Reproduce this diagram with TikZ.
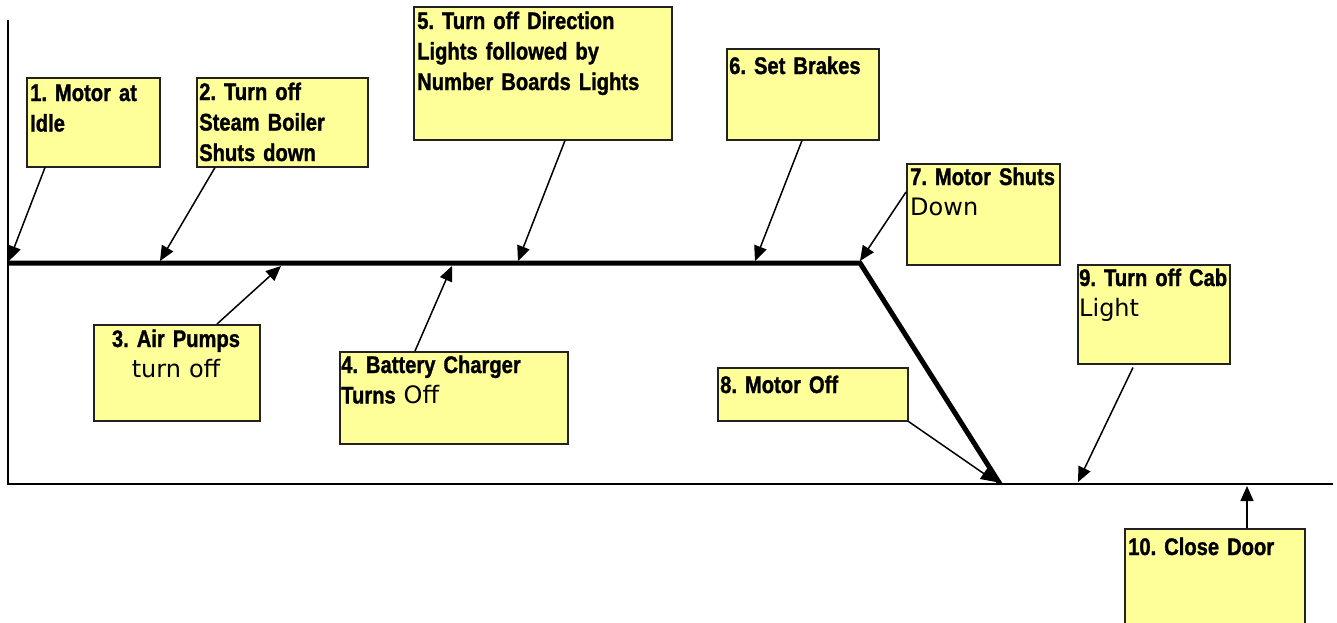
\documentclass[tikz,border=0pt]{standalone}
\usepackage{fontspec}
\usetikzlibrary{arrows.meta,calc}
\newfontfamily\bfcond[FakeStretch=0.84,FakeBold=1.2,WordSpace=0.8]{Liberation Sans}
\newfontfamily\rgsans{DejaVu Sans}
\newcommand{\B}[1]{{\bfcond\bfseries #1}}
\newcommand{\R}[1]{{\rgsans #1}}
\definecolor{boxyellow}{HTML}{FFFF99}
\definecolor{boxedge}{HTML}{222222}
\begin{document}
\begin{tikzpicture}[x=1pt,y=-1pt,
  ybox/.style={draw=boxedge,line width=1.5pt,fill=boxyellow,anchor=north west,inner sep=0pt},
  lbl/.style={anchor=base west,inner sep=0pt,text width=300pt,align=left,
    font=\frenchspacing\fontsize{24}{30.5}\selectfont},
  clbl/.style={anchor=base,inner sep=0pt,text width=170pt,align=center,
    font=\frenchspacing\fontsize{24}{30.5}\selectfont},
  axis/.style={line width=1.8pt},
  spine/.style={line width=5pt,line join=miter},
  arr/.style={line width=1.5pt,-{Triangle[length=15pt,width=13pt]}}]
\useasboundingbox (0,0) rectangle (1337,622);
\clip (0,0) rectangle (1337,622);
% axes
\coordinate (atop) at (8,20);
\coordinate (acorner) at (8,484);
\coordinate (aend) at (1333,484);
\draw[axis] (atop) -- (acorner) -- (aend);
% spine
\coordinate (sp0) at (7,263);
\coordinate (spk) at (860,263);
\coordinate (spe) at (1000,484);
\draw[spine] (sp0) -- (spk) -- (spe);
% boxes
\node[ybox,minimum width=133pt,minimum height=89pt] (b1) at (26,77) {};
\node[ybox,minimum width=171pt,minimum height=89pt] (b2) at (196,77) {};
\node[ybox,minimum width=166pt,minimum height=96pt] (b3) at (93,324) {};
\node[ybox,minimum width=228pt,minimum height=92pt] (b4) at (339,351) {};
\node[ybox,minimum width=258pt,minimum height=133pt] (b5) at (413,6) {};
\node[ybox,minimum width=152pt,minimum height=91pt] (b6) at (726,48) {};
\node[ybox,minimum width=153pt,minimum height=101pt] (b7) at (906,163) {};
\node[ybox,minimum width=190pt,minimum height=53pt] (b8) at (717,367) {};
\node[ybox,minimum width=152pt,minimum height=99pt] (b9) at (1077,264) {};
\node[ybox,minimum width=180pt,minimum height=110pt] (b10) at (1124,528) {};
% texts
\node[lbl] (t1) at (30,101) {\B{1. Motor at}\\\B{Idle}};
\node[lbl] (t2) at (199,100) {\B{2. Turn off}\\\B{Steam Boiler}\\\B{Shuts down}};
\node[clbl] (t3) at (176,347) {\B{3. Air Pumps}\\\R{turn off}};
\node[lbl] (t4) at (341,373) {\B{4. Battery Charger}\\\B{Turns} \R{Off}};
\node[lbl] (t5) at (417,29) {\B{5. Turn off Direction}\\\B{Lights followed by}\\\B{Number Boards Lights}};
\node[lbl] (t6) at (729,74) {\B{6. Set Brakes}};
\node[lbl] (t7) at (910,185) {\B{7. Motor Shuts}\\\R{Down}};
\node[lbl] (t8) at (720,393) {\B{8. Motor Off}};
\node[lbl] (t9) at (1079,286) {\B{9. Turn off Cab}\\\R{Light}};
\node[lbl] (t10) at (1128,555) {\B{10. Close Door}};
% arrow targets
\coordinate (s1) at (9,261);
\coordinate (s2) at (160,261);
\coordinate (s3) at (281,266);
\coordinate (s4) at (452,266);
\coordinate (s5) at (518,261);
\coordinate (s6) at (755,261);
\coordinate (s7) at (860,261);
\coordinate (s8) at (996,482);
\coordinate (s9) at (1078,482);
\coordinate (s10) at (1247,486);
% arrows
\draw[arr] ($(b1.south west)+(19,0)$) -- (s1);
\draw[arr] ($(b2.south west)+(19,0)$) -- (s2);
\draw[arr] ($(b3.north west)+(124,0)$) -- (s3);
\draw[arr] ($(b4.north west)+(76,0)$) -- (s4);
\draw[arr] ($(b5.south west)+(152,0)$) -- (s5);
\draw[arr] ($(b6.south west)+(76,0)$) -- (s6);
\draw[arr] ($(b7.north west)+(0,29)$) -- (s7);
\draw[arr] (b8.south east) -- (s8);
\draw[arr] ($(b9.south west)+(56,3)$) -- (s9);
\draw[arr] ($(b10.north west)+(123,0)$) -- (s10);
\end{tikzpicture}
\end{document}
